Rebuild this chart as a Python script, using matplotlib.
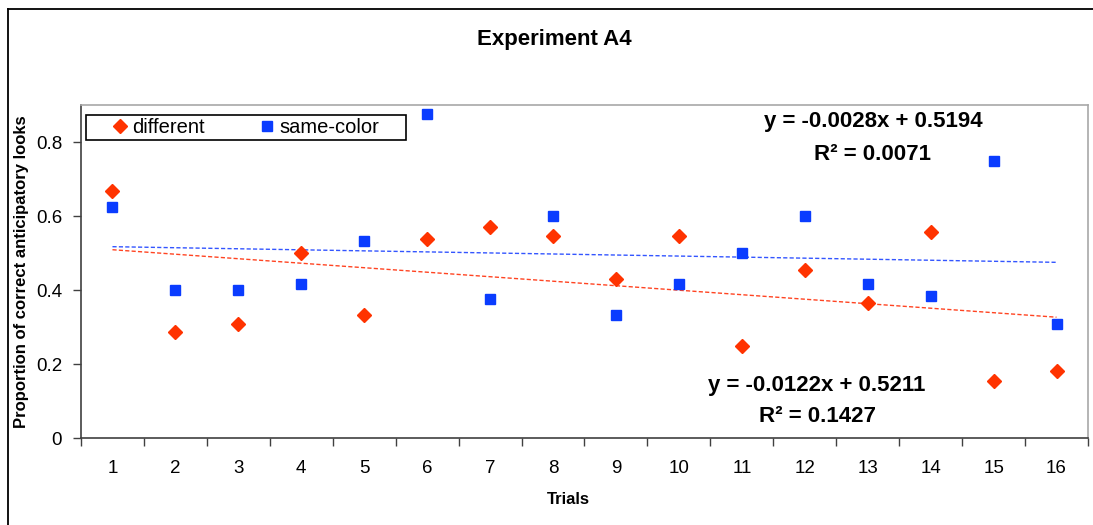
#!/usr/bin/env python3
# Experiment A4 - anticipatory looks per trial, with linear trendlines
import numpy as np
import matplotlib
matplotlib.use("Agg")  # headless
import matplotlib.pyplot as plt
from matplotlib.lines import Line2D
from matplotlib.patches import Rectangle

plt.rcParams["font.family"] = ["Liberation Sans", "DejaVu Sans"]

# ---------- data ----------
trials = list(range(1, 17))
different = [0.667, 0.286, 0.308, 0.500, 0.333, 0.538, 0.571, 0.545,
             0.429, 0.545, 0.250, 0.455, 0.364, 0.556, 0.154, 0.182]
same_color = [0.625, 0.400, 0.400, 0.417, 0.533, 0.875, 0.375, 0.600,
              0.333, 0.417, 0.500, 0.600, 0.417, 0.385, 0.750, 0.308]
eq_same = ["y = -0.0028x + 0.5194", "R² = 0.0071"]
eq_diff = ["y = -0.0122x + 0.5211", "R² = 0.1427"]

RED = "#ff3300"
BLUE = "#0a3cff"

fig = plt.figure(figsize=(10.93, 5.25), dpi=100)
ax = fig.add_axes([0.0741, 0.1657, 0.9213, 0.6343])

# outer chart frame (only left + top visible in the crop)
fig.add_artist(Line2D([0.0073, 0.0073], [0.983, 0.0], color="black", lw=1.3))
fig.add_artist(Line2D([0.0073, 1.0], [0.983, 0.983], color="black", lw=1.3))

# trendlines (least squares, like excel's linear trendline)
x = np.array(trials, dtype=float)
for ys, col in ((same_color, "#3355ff"), (different, "#ff4422")):
    k, b = np.polyfit(x, ys, 1)
    ax.plot(x, k * x + b, color=col, lw=1.0, ls=(0, (3, 1.6)), zorder=2)

ax.plot(trials, different, ls="none", marker="D", ms=6.8, color=RED,
        mec=RED, label="different", zorder=3)
ax.plot(trials, same_color, ls="none", marker="s", ms=6.8, color=BLUE,
        mec=BLUE, label="same-color", zorder=3)

ax.set_xlim(0.5, 16.5)
ax.set_ylim(0, 0.9)
ax.set_xticks(np.arange(0.5, 17, 1))
ax.set_xticklabels([])
ax.set_xticks(trials, minor=True)
ax.set_xticklabels([str(t) for t in trials], minor=True, fontsize=13.5)
ax.tick_params(axis="x", which="major", length=6, width=1, color="#404040", direction="out")
ax.tick_params(axis="x", which="minor", length=0, pad=16)
ax.set_yticks([0, 0.2, 0.4, 0.6, 0.8])
ax.set_yticklabels(["0", "0.2", "0.4", "0.6", "0.8"], fontsize=13.5)
ax.tick_params(axis="y", length=6, width=1, color="#404040", direction="out", pad=7.5)

for s in ("left", "bottom"):
    ax.spines[s].set_color("#404040")
    ax.spines[s].set_linewidth(1.2)
for s in ("top", "right"):
    ax.spines[s].set_color("#a8a8a8")
    ax.spines[s].set_linewidth(1.2)

ax.set_xlabel("Trials", fontsize=12, fontweight="bold")
ax.xaxis.set_label_coords(0.4836, -0.186)
ax.xaxis.label.set_verticalalignment("center")
ax.set_ylabel("Proportion of correct anticipatory looks", fontsize=12, fontweight="bold")
ax.yaxis.set_label_coords(-0.0586, 0.5)
ax.yaxis.label.set_verticalalignment("center")

fig.text(0.507, 0.924, "Experiment A4", ha="center", va="center",
         fontsize=16, fontweight="bold")

# trendline equations
ax.text(0.7865, 0.949, eq_same[0], transform=ax.transAxes, ha="center", va="center",
        fontsize=16, fontweight="bold")
ax.text(0.7865, 0.850, eq_same[1], transform=ax.transAxes, ha="center", va="center",
        fontsize=16, fontweight="bold")
ax.text(0.731, 0.159, eq_diff[0], transform=ax.transAxes, ha="center", va="center",
        fontsize=16, fontweight="bold")
ax.text(0.731, 0.064, eq_diff[1], transform=ax.transAxes, ha="center", va="center",
        fontsize=16, fontweight="bold")

# legend: frame drawn separately so padding can be wider than tall
ax.add_patch(Rectangle((0.00467, 0.895), 0.3177, 0.075, transform=ax.transAxes,
                       fill=True, facecolor="white", edgecolor="black", lw=1.2, zorder=4))
leg = ax.legend(loc="center left", bbox_to_anchor=(0.0308, 0.9324), borderaxespad=0,
                ncol=2, fontsize=14.5, frameon=False, borderpad=0,
                handlelength=0.8, handletextpad=0.2, columnspacing=2.7)
leg.set_zorder(5)

fig.savefig("out.png", dpi=100)
